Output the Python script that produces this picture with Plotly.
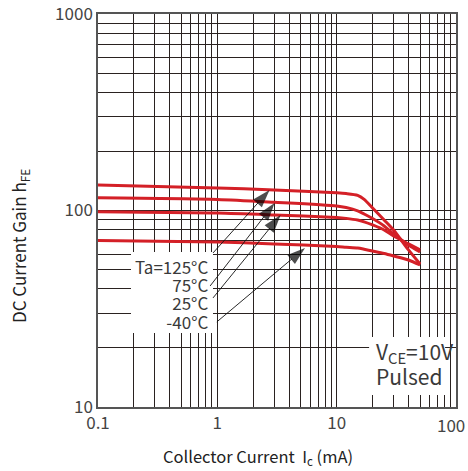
import plotly.graph_objects as go
import numpy as np

# ---- data ----
ic_ma = [0.1, 1, 3, 10, 12, 15, 17, 20, 25, 30, 40, 50]
hfe_125 = [134.8, 130.2, 127.2, 123.0, 122.0, 119.5, 114.0, 103.0, 89.5, 79.6, 63.0, 53.4]
hfe_75 = [116.0, 113.8, 110.1, 105.4, 103.5, 99.6, 96.0, 91.0, 83.4, 75.9, 66.7, 61.5]
hfe_25 = [98.6, 97.1, 94.9, 92.1, 91.2, 89.4, 87.5, 84.4, 79.6, 74.2, 67.6, 63.0]
hfe_m40 = [70.4, 69.2, 67.6, 65.6, 65.0, 64.4, 63.5, 62.2, 60.4, 58.7, 56.0, 52.8]

series_names = ["Ta=125°C", "75°C", "25°C", "-40°C"]
series_values = [hfe_125, hfe_75, hfe_25, hfe_m40]

# temperature label anchor (mA, hFE) and arrow tail / tip points
label_x = 0.86
label_y = 37.5
tail_x = [0.92, 0.87, 0.92, 0.99]
tail_y = [60.8, 41.3, 35.9, 27.1]
tip_x = [2.74, 3.02, 3.39, 5.43]
tip_y = [127.2, 109.2, 94.9, 64.5]

x_ticks = [0.1, 1, 10, 100]
x_tick_labels = ["0.1", "1", "10", "100"]
y_ticks = [10, 100, 1000]
y_tick_labels = ["10", "100", "1000"]
minor_x = [m * d for d in [0.1, 1, 10] for m in range(2, 10)]
minor_y = [m * d for d in [10, 100] for m in range(2, 10)]

RED = "#d42027"
GRID = "#2a2220"
TXT = "#3a3a3a"
FONT = "Noto Sans CJK SC"
TICKFONT = dict(family=FONT, size=17, color="#444444")

fig = go.Figure()
for name, vals in zip(series_names, series_values):
    fig.add_trace(go.Scatter(x=ic_ma, y=vals, mode="lines", name=name,
                             line=dict(color=RED, width=3, shape="spline", smoothing=0.7),
                             showlegend=False, hoverinfo="skip"))

# arrows: thin line with an arrowhead marker oriented along the segment
for tx, ty, px, py in zip(tail_x, tail_y, tip_x, tip_y):
    fig.add_trace(go.Scatter(x=[tx, px], y=[ty, py], mode="lines+markers",
                             line=dict(color="#111111", width=0.9),
                             marker=dict(symbol="arrow", size=[0, 19], color="#000000",
                                         angleref="previous", line=dict(width=0)),
                             showlegend=False, hoverinfo="skip"))

# white boxes hiding grid behind text
fig.add_shape(type="rect", xref="x", yref="y", x0=0.189, x1=0.92, y0=23.8, y1=61.5,
              fillcolor="white", line=dict(width=0), layer="between")
fig.add_shape(type="rect", xref="x", yref="y", x0=18.7, x1=81.0, y0=11.5, y1=22.7,
              fillcolor="white", line=dict(width=0), layer="between")

big = lambda s, px: '<span style="font-size:%dpx">%s</span>' % (px, s)

fig.add_annotation(x=np.log10(label_x), y=np.log10(label_y),
                   text="<br>".join(big(s, 17) for s in series_names),
                   showarrow=False, align="right", xanchor="right", yanchor="middle",
                   font=dict(family=FONT, size=14, color=TXT))

fig.add_annotation(x=np.log10(20.6), y=np.log10(16.6),
                   text=big("V<sub>CE</sub>=10V", 21) + "<br>" + big("Pulsed", 21),
                   showarrow=False, xanchor="left", yanchor="middle", align="left",
                   font=dict(family=FONT, size=19, color=TXT))

# last x tick label drawn as an annotation so it stays inside the page
fig.add_annotation(xref="x", yref="paper", x=np.log10(x_ticks[-1]), y=(407 - 424.5) / 393,
                   text=x_tick_labels[-1], showarrow=False, xanchor="right", yanchor="middle",
                   xshift=11, font=TICKFONT)

# axis titles as annotations for precise placement
fig.add_annotation(xref="paper", yref="paper", x=(257.5 - 98) / 358, y=(471 - 457 - 64) / 393,
                   text="Collector Current  I<sub>c</sub> (mA)", showarrow=False,
                   xanchor="center", yanchor="middle",
                   font=dict(family=FONT, size=16.5, color="#222222"))
fig.add_annotation(xref="paper", yref="paper", x=(20 - 98) / 358, y=(407 - 246) / 393,
                   text="DC Current Gain h<sub>FE</sub>", showarrow=False, textangle=-90,
                   xanchor="center", yanchor="middle",
                   font=dict(family=FONT, size=17, color="#222222"))

axis_common = dict(type="log", showgrid=True, gridcolor=GRID, gridwidth=1,
                   showline=True, linecolor="#555555", linewidth=1.5, mirror=True,
                   ticks="", zeroline=False, ticklabeloverflow="allow", automargin=False,
                   tickfont=TICKFONT)

fig.update_xaxes(**axis_common, range=[-1.00001, 2.0001], tickvals=x_ticks[:-1],
                 ticktext=x_tick_labels[:-1],
                 minor=dict(tickvals=minor_x, showgrid=True, gridcolor=GRID, gridwidth=1, ticks=""))
fig.update_yaxes(**axis_common, range=[0.99999, 3.0001], tickvals=y_ticks, ticktext=y_tick_labels,
                 minor=dict(tickvals=minor_y, showgrid=True, gridcolor=GRID, gridwidth=1, ticks=""))

fig.update_layout(width=468, height=471, margin=dict(l=98, r=12, t=14, b=64, autoexpand=False),
                  plot_bgcolor="white", paper_bgcolor="white")

fig.write_html("out.html")
